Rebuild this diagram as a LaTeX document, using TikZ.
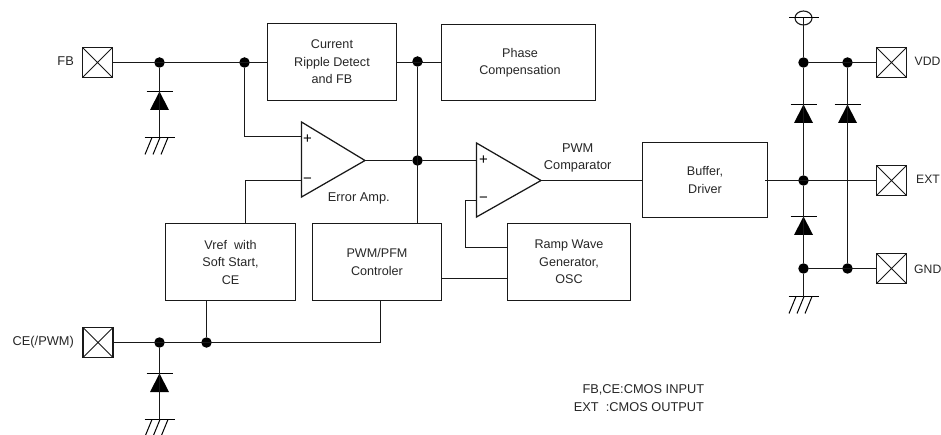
\documentclass[tikz,border=0pt]{standalone}
\usepackage{fontspec}
\setmainfont{Liberation Sans}
\usetikzlibrary{calc,shapes.geometric}
\tikzset{
  wire/.style={draw=black!90,line width=1.25pt},
  blockbox/.style={rectangle,draw=black!90,line width=1.25pt,inner sep=0pt,align=center,font=\fontsize{12.6}{17.5}\selectfont,text=black!85},
  padbox/.style={rectangle,draw=black!90,line width=1.25pt,inner sep=0pt,minimum width=30pt,minimum height=30pt,
    path picture={\draw[line width=0.9pt] (path picture bounding box.north west)--(path picture bounding box.south east)
      (path picture bounding box.north east)--(path picture bounding box.south west);}},
  dotn/.style={circle,fill=black,draw=none,inner sep=0pt,minimum size=10.5pt},
  lab/.style={font=\fontsize{12.8}{17.5}\selectfont,text=black!85,inner sep=0pt,align=left},
  sign/.style={font=\fontsize{15}{15}\selectfont,text=black,inner sep=0pt},
  barline/.style={line width=1.1pt},
}
% diode: #1 = name, (#2,#3) = centre of the bar
\newcommand{\mydiode}[3]{%
  \coordinate (#1) at (#2,#3);
  \draw[barline] (#2-13,#3)--(#2+13,#3);
  \fill (#2,#3)--(#2-9.5,#3+18.5)--(#2+9.5,#3+18.5)--cycle;
}
% ground: #1 = name, (#2,#3) = centre of the bar
\newcommand{\myground}[3]{%
  \coordinate (#1) at (#2,#3);
  \draw[barline] (#2-15,#3)--(#2+15,#3);
  \draw[line width=1pt] (#2-7.5,#3)--(#2-14.5,#3+17) (#2+0.5,#3)--(#2-6.5,#3+17) (#2+8.5,#3)--(#2+1.5,#3+17);
}
\begin{document}
\begin{tikzpicture}[x=1pt,y=-1pt]
\useasboundingbox (0,0) rectangle (941,435);
% pads
\node[padbox] (fbp) at (97.5,62.5) {};
\node[padbox] (cep) at (98,342.5) {};
\node[padbox] (vddp) at (891.5,62.5) {};
\node[padbox] (extp) at (891.5,180.5) {};
\node[padbox] (gndp) at (891.5,268.5) {};
\node[lab,anchor=east] (fbl) at (74,61.5) {FB};
\node[lab,anchor=east] (cel) at (74,342) {CE(/PWM)};
\node[lab,anchor=west,font=\fontsize{12.2}{14}\selectfont] (vddl) at (914.5,61.5) {VDD};
\node[lab,anchor=west,font=\fontsize{12.2}{14}\selectfont] (extl) at (916,179.5) {EXT};
\node[lab,anchor=west,font=\fontsize{12.2}{14}\selectfont] (gndl) at (914,269.5) {GND};
% blocks
\node[blockbox,minimum width=129pt,minimum height=77pt] (cur) at (332,62) {Current\\Ripple Detect\\and FB};
\node[blockbox,minimum width=154pt,minimum height=76pt] (pha) at (518.5,62.5) {\hspace*{3pt}Phase\\\hspace*{3pt}Compensation};
\node[blockbox,minimum width=125pt,minimum height=75pt] (buf) at (705,180) {Buffer,\\Driver};
\node[blockbox,minimum width=130pt,minimum height=77pt] (vre) at (230.5,262) {Vref\ \ with\\Soft Start,\\CE};
\node[blockbox,minimum width=129pt,minimum height=77pt] (pwm) at (377,262) {PWM/PFM\\Controler};
\node[blockbox,minimum width=123pt,minimum height=77pt] (ram) at (569,262) {Ramp Wave\\Generator,\\OSC};
% amplifiers
\draw[wire,line join=miter] (301.5,122)--(365,160.5)--(301.5,197)--cycle;
\draw[wire,line join=miter] (476.5,143)--(541,180.5)--(476.5,217)--cycle;
\coordinate (eaP) at (301.5,136.5); \coordinate (eaM) at (301.5,180.5); \coordinate (eaO) at (365,160.5);
\coordinate (cpP) at (476.5,160.5); \coordinate (cpM) at (476.5,200.5); \coordinate (cpO) at (541,180.5);
\node[sign] (s1) at (307.5,139.5) {+};
\node[sign] (s2) at (307.5,180.5) {\textminus};
\node[sign] (s3) at (483.5,160) {+};
\node[sign] (s4) at (483.5,200) {\textminus};
\node[lab] (eal) at (358.8,198.5) {Error Amp.};
\node[lab,align=center] (pcl) at (577.7,158) {PWM\\Comparator};
\node[lab,anchor=west] (nt1) at (582.3,390) {FB,CE:CMOS INPUT};
\node[lab,anchor=west] (nt2) at (573.7,407) {EXT\ \ :CMOS OUTPUT};
% junctions
\node[dotn] (j1) at (159.5,62.5) {};
\node[dotn] (j2) at (244.5,62.5) {};
\node[dotn] (j3) at (417.5,61.5) {};
\node[dotn] (j4) at (417.5,160.5) {};
\node[dotn] (j5) at (159.5,342.5) {};
\node[dotn] (j6) at (206.5,342.5) {};
\node[dotn] (j7) at (803.5,62.5) {};
\node[dotn] (j8) at (847.5,62.5) {};
\node[dotn] (j9) at (803.5,180.5) {};
\node[dotn] (j10) at (803.5,268.5) {};
\node[dotn] (j11) at (847.5,268.5) {};
% diodes and grounds
\mydiode{d1}{159.5}{91.5}
\mydiode{d2}{159.5}{373.5}
\mydiode{d3}{803.5}{104.5}
\mydiode{d4}{847.5}{104.5}
\mydiode{d5}{803.5}{216.5}
\myground{g1}{159.5}{137.5}
\myground{g2}{159.5}{419.5}
\myground{g3}{803.5}{296.5}
% supply symbol
\node[ellipse,draw=black!90,line width=1.1pt,minimum width=17pt,minimum height=14pt,inner sep=0pt] (vs) at (803.5,18) {};
\draw[barline] (789,17.5)--(819,17.5);
% wires
\draw[wire] (fbp.east)--(cur.west |- fbp.east);
\draw[wire] (j1)--(d1);
\draw[wire] (d1)--(g1);
\draw[wire] (j2)--(j2 |- eaP)--(eaP);
\draw[wire] (cur.east |- 0,62.5)--(pha.west |- 0,62.5);
\draw[wire] (j3)--(j3 |- pwm.north);
\draw[wire] (eaO)--(j4)--(cpP);
\draw[wire] (eaM)--(245.5,180.5)--(245.5,223.5);
\draw[wire] (cpM)--(465.5,200.5)--(465.5,247.5)--(ram.west |- 0,247.5);
\draw[wire] (pwm.east |- 0,278.5)--(ram.west |- 0,278.5);
\draw[wire] (cpO)--(buf.west |- cpO);
\draw[wire] (cep.east)--(380.5,342.5)--(380.5,300.5);
\draw[wire] (j6)--(j6 |- vre.south);
\draw[wire] (j5)--(d2);
\draw[wire] (d2)--(g2);
\draw[wire] (j7)--(vddp.west |- j7);
\draw[wire] (vs.center)--(j7);
\draw[wire] (j7)--(d3);
\draw[wire] (d3)--(j9);
\draw[wire] (j8)--(d4);
\draw[wire] (d4)--(j11);
\draw[wire] (765,180.5)--(extp.west);
\draw[wire] (j9)--(d5);
\draw[wire] (d5)--(j10);
\draw[wire] (j10)--(g3);
\draw[wire] (j10)--(gndp.west |- j10);
\end{tikzpicture}
\end{document}
